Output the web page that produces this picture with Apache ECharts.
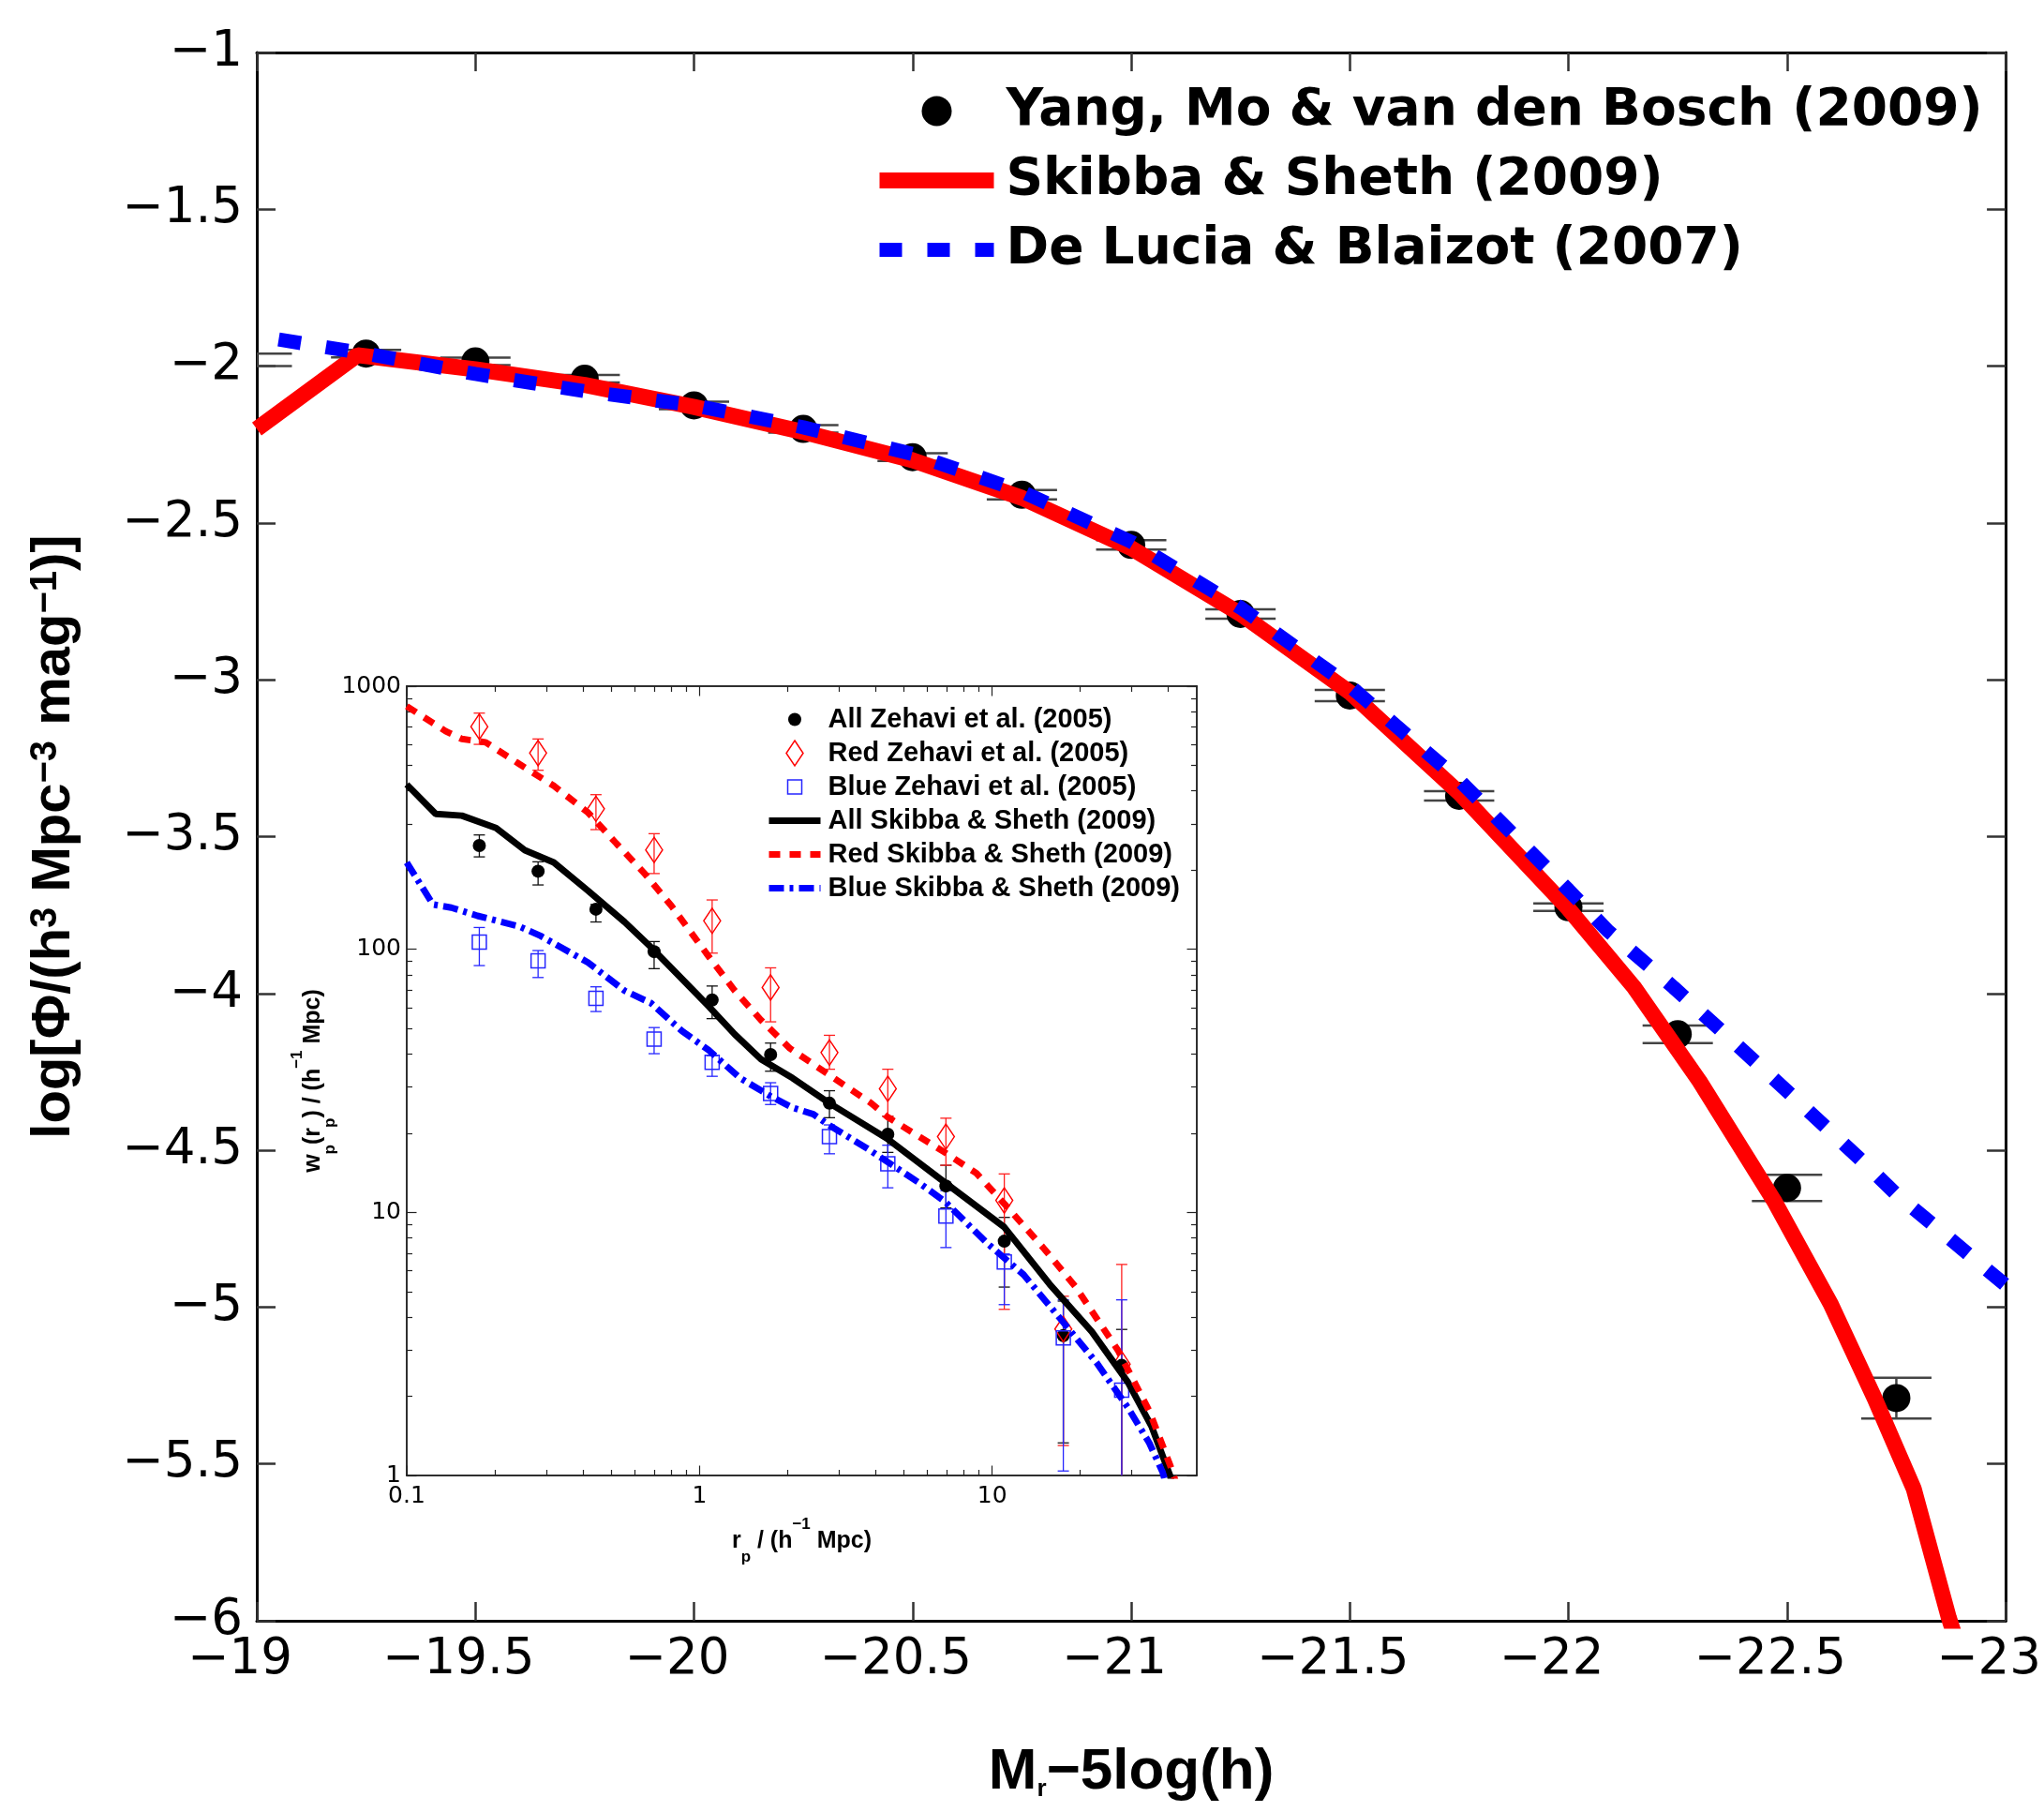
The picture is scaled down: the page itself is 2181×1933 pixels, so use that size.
<!DOCTYPE html>
<html>
<head>
<meta charset="utf-8">
<script src="https://cdn.jsdelivr.net/npm/echarts@6/dist/echarts.min.js"></script>
<style>
  html, body { margin: 0; padding: 0; background: #fff; }
  #chart { width: 2181px; height: 1933px; }
</style>
</head>
<body>
<div id="chart"></div>
<script>
// ---- main panel: luminosity function ----
var yangX = [-19, -19.25, -19.5, -19.75, -20, -20.25, -20.5, -20.75, -21, -21.25, -21.5, -21.75, -22, -22.25, -22.5, -22.75];
var yangY = [-1.98, -1.96, -1.985, -2.04, -2.125, -2.20, -2.29, -2.41, -2.57, -2.79, -3.05, -3.37, -3.725, -4.13, -4.62, -5.29];
var yangErr = [0.02, 0.012, 0.012, 0.012, 0.012, 0.012, 0.012, 0.015, 0.015, 0.015, 0.018, 0.015, 0.012, 0.028, 0.042, 0.065];

var skibbaX = [-19, -19.23, -19.5, -19.75, -20, -20.25, -20.5, -20.75, -21, -21.25, -21.5, -21.75, -22, -22.15, -22.3, -22.47, -22.6, -22.7, -22.79, -22.87, -22.9];
var skibbaY = [-2.2, -1.965, -2.01, -2.06, -2.13, -2.21, -2.30, -2.42, -2.58, -2.79, -3.04, -3.36, -3.73, -3.98, -4.28, -4.66, -4.99, -5.29, -5.58, -5.99, -6.12];

var deluciaX = [-19.05, -19.25, -19.5, -19.75, -20, -20.25, -20.5, -20.75, -21, -21.25, -21.5, -21.75, -22, -22.09, -22.24, -22.39, -22.53, -22.68, -22.75, -23];
var deluciaY = [-1.915, -1.96, -2.025, -2.08, -2.125, -2.195, -2.28, -2.40, -2.56, -2.77, -3.02, -3.32, -3.67, -3.80, -3.98, -4.17, -4.35, -4.545, -4.64, -4.93];

// ---- inset: projected correlation function ----
var rp = [0.177, 0.281, 0.443, 0.70, 1.105, 1.75, 2.78, 4.4, 6.95, 11.0, 17.5, 27.7];
var allWp = [248, 198, 142, 98, 64.2, 39.8, 26.0, 19.8, 12.6, 7.77, 3.4, 2.62];
var allLo = [224.5, 175.6, 127, 84.4, 54.5, 34.4, 22.9, 16.9, 10.4, 5.2, 1.33, 0.8];
var allHi = [272, 215, 148, 107, 72.5, 44, 29.0, 23.2, 15.1, 9.57, 4.6, 3.59];
var redWp = [702, 557, 342, 238.5, 128.3, 71.6, 40.5, 29.5, 19.4, 11.1, 3.6, 2.65];
var redLo = [601, 479, 285, 194, 96.7, 53, 35, 23.2, 15.1, 4.28, 1.3, 0.5];
var redHi = [790, 630, 387, 275, 154, 85, 47.1, 35, 22.8, 14.0, 4.8, 6.34];
var blueWp = [106.4, 90.3, 65.1, 45.6, 37.2, 28.3, 19.4, 15.3, 9.69, 6.48, 3.33, 2.11];
var blueLo = [86.7, 78.1, 58, 40.1, 32.9, 25.7, 16.7, 12.4, 7.35, 4.46, 1.04, 0.5];
var blueHi = [121, 98.9, 72, 50.4, 39.4, 31.1, 21.5, 18, 12.1, 6.95, 4.65, 4.65];

var allModelR = [0.1, 0.1256, 0.1543, 0.2018, 0.2532, 0.3178, 0.4159, 0.5546, 0.682, 1.074, 1.32, 1.623, 2.08, 2.78, 4.37, 6.89, 10.98, 15.7, 21.9, 29.1, 35.1, 40.5, 41];
var allModel = [423, 327, 322, 289, 238, 213.8, 167, 127, 102, 60.8, 47.5, 38.2, 32.4, 26, 19.1, 13.0, 8.8, 5.34, 3.52, 2.26, 1.53, 1.0, 0.95];
var redModelR = [0.1, 0.136, 0.1543, 0.186, 0.243, 0.318, 0.416, 0.521, 0.655, 0.804, 1.074, 1.32, 1.623, 2.037, 2.72, 3.86, 4.4, 6.89, 8.82, 11.07, 15.1, 19.3, 26.9, 34.4, 40.6, 43];
var redModel = [839, 674, 630, 612, 505, 418, 331, 252, 192, 145.7, 94.1, 69.6, 53.8, 42, 33.8, 26.0, 23.0, 16.9, 14.1, 10.7, 7.24, 5.2, 2.99, 1.76, 1.09, 0.9];
var blueModelR = [0.1, 0.1229, 0.142, 0.1745, 0.243, 0.2866, 0.416, 0.5546, 0.682, 0.874, 1.074, 1.376, 1.762, 2.08, 2.45, 2.78, 3.71, 5.6, 6.89, 9.58, 12.8, 17.1, 22.8, 29.1, 34.4, 38.2, 39];
var blueModel = [213.8, 148, 144, 134, 122, 112.4, 89.1, 69.6, 62.5, 48.8, 41.4, 32.4, 27.5, 25.0, 23.6, 21.4, 17.6, 13.0, 11.0, 7.66, 5.8, 3.94, 2.67, 1.81, 1.33, 1.03, 0.95];

var rpMajor = [0.1, 1, 10];
var rpMinor = [0.2, 0.3, 0.4, 0.5, 0.6, 0.7, 0.8, 0.9, 2, 3, 4, 5, 6, 7, 8, 9, 20, 30, 40];
var wpMajor = [1, 10, 100, 1000];
var wpMinor = [2, 3, 4, 5, 6, 7, 8, 9, 20, 30, 40, 50, 60, 70, 80, 90, 200, 300, 400, 500, 600, 700, 800, 900];

var TICK = 'DejaVu Sans';
var SANS = 'Liberation Sans, Arial, sans-serif';

function pairs(xs, ys) {
    return xs.map(function (x, i) { return [x, ys[i]]; });
}
function bars(xs, lo, hi) {
    return xs.map(function (x, i) { return [x, lo[i], hi[i]]; });
}
function minus(v) {
    return (v < 0 ? '\u2212' : '') + Math.abs(v);
}

function errorBars(color, width, capHalf) {
    return function (params, api) {
        var x = api.value(0);
        var a = api.coord([x, api.value(1)]);
        var b = api.coord([x, api.value(2)]);
        var st = { stroke: color, lineWidth: width, fill: null };
        return {
            type: 'group',
            children: [
                { type: 'line', shape: { x1: a[0], y1: a[1], x2: b[0], y2: b[1] }, style: st },
                { type: 'line', shape: { x1: a[0] - capHalf, y1: a[1], x2: a[0] + capHalf, y2: a[1] }, style: st },
                { type: 'line', shape: { x1: b[0] - capHalf, y1: b[1], x2: b[0] + capHalf, y2: b[1] }, style: st }
            ]
        };
    };
}

// main panel axes
function mainX(pos, withLabel) {
    var ax = {
        type: 'value', gridIndex: 0, position: pos,
        min: -23, max: -19, interval: 0.5, inverse: true,
        axisLine: { onZero: false, lineStyle: { color: '#000', width: 3 } },
        axisTick: { inside: true, length: 20, lineStyle: { color: '#333', width: 2.5 } },
        axisLabel: { show: false },
        splitLine: { show: false }
    };
    if (withLabel) {
        ax.axisLabel = {
            show: true, margin: 16,
            formatter: function (v) { return '{t|' + minus(v) + '}'; },
            rich: { t: { fontFamily: TICK, fontSize: 53, color: '#000', padding: [0, 36, 0, 0] } }
        };
        ax.name = '{m|M}{s|r}{m|\u22125log(h)}';
        ax.nameLocation = 'middle';
        ax.nameGap = 131;
        ax.nameTextStyle = {
            rich: {
                m: { fontFamily: SANS, fontWeight: 'bold', fontSize: 62, lineHeight: 62, color: '#000', verticalAlign: 'top' },
                s: { fontFamily: SANS, fontWeight: 'bold', fontSize: 26, lineHeight: 26, color: '#000', verticalAlign: 'bottom', padding: [54, 0, 0, 0] }
            }
        };
    }
    return ax;
}
function mainY(pos, withLabel) {
    var ax = {
        type: 'value', gridIndex: 0, position: pos,
        min: -6, max: -1, interval: 0.5,
        axisLine: { onZero: false, lineStyle: { color: '#000', width: 3 } },
        axisTick: { inside: true, length: 20, lineStyle: { color: '#333', width: 2.5 } },
        axisLabel: { show: false },
        splitLine: { show: false }
    };
    if (withLabel) {
        ax.axisLabel = {
            show: true, margin: 15, fontFamily: TICK, fontSize: 53, color: '#000',
            formatter: minus
        };
        ax.name = '{m|log[\u03a6/(h}{p|3}{m| Mpc}{p|\u22123}{m| mag}{p|\u22121}{m|)]}';
        ax.nameLocation = 'middle';
        ax.nameGap = 166;
        ax.nameTextStyle = {
            rich: {
                m: { fontFamily: SANS, fontWeight: 'bold', fontSize: 58, lineHeight: 58, color: '#000', verticalAlign: 'bottom' },
                p: { fontFamily: SANS, fontWeight: 'bold', fontSize: 40, lineHeight: 40, color: '#000', verticalAlign: 'top', padding: [0, 0, 50, 0] }
            }
        };
    }
    return ax;
}

// inset axes (log)
var insetRich = {
    m: { fontFamily: SANS, fontWeight: 'bold', fontSize: 25, lineHeight: 52, color: '#000', verticalAlign: 'middle' },
    u: { fontFamily: SANS, fontWeight: 'bold', fontSize: 17, lineHeight: 17, color: '#000', verticalAlign: 'top' },
    d: { fontFamily: SANS, fontWeight: 'bold', fontSize: 17, lineHeight: 17, color: '#000', verticalAlign: 'bottom' }
};
function insetAxis(dim, pos, ticks, len, labels) {
    var ax = {
        type: 'log', logBase: 10, gridIndex: 1, position: pos,
        min: dim === 'x' ? 0.1 : 1, max: dim === 'x' ? 50 : 1000,
        axisLine: { show: true, onZero: false, lineStyle: { color: '#222', width: 1.5 } },
        axisTick: { inside: true, length: len, customValues: ticks, lineStyle: { color: '#222', width: 1.2 } },
        axisLabel: { show: false },
        splitLine: { show: false },
        minorTick: { show: false }
    };
    if (labels) {
        ax.axisLabel = {
            show: true, customValues: labels, margin: dim === 'x' ? 10 : 6,
            fontFamily: TICK, fontSize: 25, color: '#000',
            formatter: function (v) { return String(v); }
        };
        ax.nameLocation = 'middle';
        ax.nameTextStyle = { rich: insetRich };
        if (dim === 'x') {
            ax.name = '{m|r}{d|p}{m| / (h}{u|\u22121}{m| Mpc)}';
            ax.nameGap = 44;
        } else {
            ax.name = '{m|w}{d|p}{m|(r}{d|p}{m|) / (h}{u|\u22121}{m| Mpc)}';
            ax.nameGap = 62;
        }
    }
    return ax;
}

// legend entry for a line series: full-width stroke, no marker
function lineEntry(name) {
    return { name: name, itemStyle: { opacity: 0 }, lineStyle: { width: 'inherit' } };
}

var chart = echarts.init(document.getElementById('chart'), null, { renderer: 'canvas' });

var option = {
    animation: false,
    backgroundColor: '#fff',
    textStyle: { fontFamily: SANS },
    grid: [
        { left: 274, right: 39, top: 56, bottom: 204, show: false },
        { left: 434, right: 904, top: 732, bottom: 359, show: true, backgroundColor: '#fff', borderWidth: 0 }
    ],
    xAxis: [
        mainX('bottom', true),
        mainX('top', false),
        insetAxis('x', 'bottom', rpMajor, 10.5, rpMajor),
        insetAxis('x', 'top', rpMajor, 10.5, null),
        insetAxis('x', 'bottom', rpMinor, 6, null),
        insetAxis('x', 'top', rpMinor, 6, null)
    ],
    yAxis: [
        mainY('left', true),
        mainY('right', false),
        insetAxis('y', 'left', wpMajor, 10.5, wpMajor),
        insetAxis('y', 'right', wpMajor, 10.5, null),
        insetAxis('y', 'left', wpMinor, 6, null),
        insetAxis('y', 'right', wpMinor, 6, null)
    ],
    legend: [
        {
            orient: 'vertical', left: 925, top: 86,
            itemWidth: 122, itemHeight: 32, itemGap: 19,
            selectedMode: false,
            textStyle: { fontFamily: TICK, fontWeight: 'bold', fontSize: 55, color: '#000', padding: [0, 0, 0, 8] },
            data: [
                'Yang, Mo & van den Bosch (2009)',
                lineEntry('Skibba & Sheth (2009)'),
                lineEntry('De Lucia & Blaizot (2007)')
            ]
        },
        {
            orient: 'vertical', left: 812, top: 748,
            itemWidth: 55, itemHeight: 27, itemGap: 7,
            selectedMode: false,
            textStyle: { fontFamily: SANS, fontWeight: 'bold', fontSize: 29, color: '#000', padding: [0, 0, 0, 3] },
            data: [
                { name: 'All Zehavi et al. (2005)', icon: 'path://M0,0 M0,27 M0,13.5 A7,7 0 1 1 14,13.5 A7,7 0 1 1 0,13.5 Z' },
                { name: 'Red Zehavi et al. (2005)', icon: 'path://M9,0 L18,13.5 L9,27 L0,13.5 Z',
                  itemStyle: { color: 'rgba(0,0,0,0)', borderColor: '#ff0000', borderWidth: 1.5 } },
                { name: 'Blue Zehavi et al. (2005)', icon: 'path://M0,0 M0,27 M0,6 L15,6 L15,21 L0,21 Z',
                  itemStyle: { color: 'rgba(0,0,0,0)', borderColor: '#2626ff', borderWidth: 1.5 } },
                lineEntry('All Skibba & Sheth (2009)'),
                lineEntry('Red Skibba & Sheth (2009)'),
                lineEntry('Blue Skibba & Sheth (2009)')
            ]
        }
    ],
    series: [
        // main panel
        {
            name: 'yangErr', type: 'custom', xAxisIndex: 0, yAxisIndex: 0, clip: true, z: 2, silent: true,
            renderItem: errorBars('#444', 2.5, 37.5),
            encode: { x: 0, y: [1, 2] },
            data: bars(yangX, yangY.map(function (y, i) { return y - yangErr[i]; }), yangY.map(function (y, i) { return y + yangErr[i]; }))
        },
        {
            name: 'Yang, Mo & van den Bosch (2009)', type: 'scatter', xAxisIndex: 0, yAxisIndex: 0, z: 3,
            symbol: 'circle', symbolSize: 30, itemStyle: { color: '#000', opacity: 1 },
            data: pairs(yangX, yangY).filter(function (p) { return p[0] < -19; })
        },
        {
            name: 'Skibba & Sheth (2009)', type: 'line', xAxisIndex: 0, yAxisIndex: 0, z: 4,
            symbol: 'none', itemStyle: { color: '#ff0000' },
            lineStyle: { color: '#ff0000', width: 17 },
            data: pairs(skibbaX, skibbaY)
        },
        {
            name: 'De Lucia & Blaizot (2007)', type: 'line', xAxisIndex: 0, yAxisIndex: 0, z: 5,
            symbol: 'none', itemStyle: { color: '#0000ff' },
            lineStyle: { color: '#0000ff', width: 15, type: [24, 27] },
            data: pairs(deluciaX, deluciaY)
        },
        // inset
        {
            name: 'allErr', type: 'custom', xAxisIndex: 2, yAxisIndex: 2, clip: true, z: 6, silent: true,
            renderItem: errorBars('#111', 1.3, 6), encode: { x: 0, y: [1, 2] },
            data: bars(rp, allLo, allHi)
        },
        {
            name: 'redErr', type: 'custom', xAxisIndex: 2, yAxisIndex: 2, clip: true, z: 6, silent: true,
            renderItem: errorBars('#ff2020', 1.3, 6), encode: { x: 0, y: [1, 2] },
            data: bars(rp, redLo, redHi)
        },
        {
            name: 'blueErr', type: 'custom', xAxisIndex: 2, yAxisIndex: 2, clip: true, z: 6, silent: true,
            renderItem: errorBars('#2626ff', 1.3, 6), encode: { x: 0, y: [1, 2] },
            data: bars(rp, blueLo, blueHi)
        },
        {
            name: 'All Zehavi et al. (2005)', type: 'scatter', xAxisIndex: 2, yAxisIndex: 2, z: 7, clip: true,
            symbol: 'circle', symbolSize: 14, itemStyle: { color: '#000', opacity: 1 },
            data: pairs(rp, allWp)
        },
        {
            name: 'Red Zehavi et al. (2005)', type: 'scatter', xAxisIndex: 2, yAxisIndex: 2, z: 7, clip: true,
            symbol: 'diamond', symbolSize: [18, 27],
            itemStyle: { color: 'rgba(0,0,0,0)', borderColor: '#ff0000', borderWidth: 1.5, opacity: 1 },
            data: pairs(rp, redWp)
        },
        {
            name: 'Blue Zehavi et al. (2005)', type: 'scatter', xAxisIndex: 2, yAxisIndex: 2, z: 7, clip: true,
            symbol: 'rect', symbolSize: 15,
            itemStyle: { color: 'rgba(0,0,0,0)', borderColor: '#2626ff', borderWidth: 1.5, opacity: 1 },
            data: pairs(rp, blueWp)
        },
        {
            name: 'All Skibba & Sheth (2009)', type: 'line', xAxisIndex: 2, yAxisIndex: 2, z: 8,
            symbol: 'none', itemStyle: { color: '#000' },
            lineStyle: { color: '#000', width: 7 },
            data: pairs(allModelR, allModel)
        },
        {
            name: 'Red Skibba & Sheth (2009)', type: 'line', xAxisIndex: 2, yAxisIndex: 2, z: 8,
            symbol: 'none', itemStyle: { color: '#ff0000' },
            lineStyle: { color: '#ff0000', width: 7, type: [12, 10] },
            data: pairs(redModelR, redModel)
        },
        {
            name: 'Blue Skibba & Sheth (2009)', type: 'line', xAxisIndex: 2, yAxisIndex: 2, z: 8,
            symbol: 'none', itemStyle: { color: '#0000ff' },
            lineStyle: { color: '#0000ff', width: 7, type: [16, 6, 4, 6] },
            data: pairs(blueModelR, blueModel)
        }
    ]
};

chart.setOption(option);
</script>
</body>
</html>
